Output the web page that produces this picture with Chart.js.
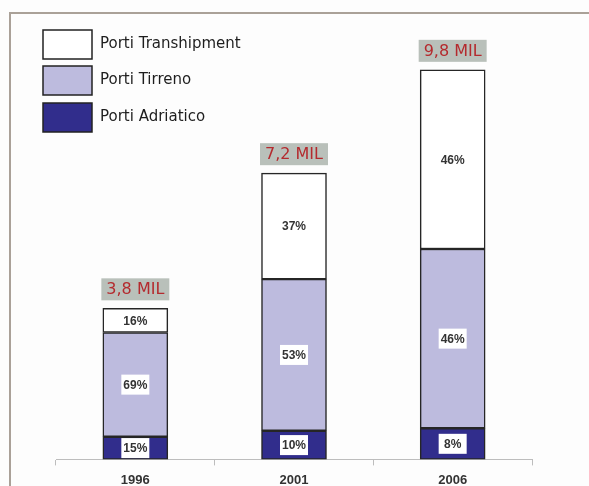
<!DOCTYPE html>
<html>
<head>
<meta charset="utf-8">
<script src="https://cdn.jsdelivr.net/npm/chart.js@4.4.1/dist/chart.umd.min.js"></script>
<style>
  html, body { margin: 0; padding: 0; background: #fdfdfd; }
  #wrap { width: 589px; height: 486px; position: relative; }
</style>
</head>
<body>
<div id="wrap"><canvas id="chart" width="589" height="486"></canvas></div>
<script>
// years on the x axis
const years = ["1996", "2001", "2006"];
// total traffic per year, in millions (label text "3,8 MIL" etc.)
const totals = [3.8, 7.2, 9.8];
const totalLabels = ["3,8 MIL", "7,2 MIL", "9,8 MIL"];
// share of each port group, percent
const shareAdriatico = [15, 10, 8];
const shareTirreno = [69, 53, 46];
const shareTranshipment = [16, 37, 46];

function part(share) {
    return share.map((s, i) => totals[i] * s / 100);
}

// white percent boxes inside each segment + grey total box above each bar
const labelsPlugin = {
    id: "segLabels",
    afterDatasetsDraw(chart) {
        var ctx = chart.ctx;
        ctx.save();
        ctx.textAlign = "center";
        ctx.textBaseline = "middle";
        chart.data.datasets.forEach((ds, di) => {
            var meta = chart.getDatasetMeta(di);
            meta.data.forEach((bar, i) => {
                var cy = (bar.y + bar.base) / 2;
                ctx.fillStyle = "#ffffff";
                ctx.fillRect(bar.x - 14, cy - 10, 28, 20);
                ctx.fillStyle = "#333333";
                ctx.font = "bold 12px 'Liberation Sans', Arial, sans-serif";
                ctx.fillText(ds.shares[i] + "%", bar.x, cy + 1);
            });
        });
        // totals
        var top = chart.getDatasetMeta(chart.data.datasets.length - 1);
        top.data.forEach((bar, i) => {
            ctx.font = "16px 'DejaVu Sans', sans-serif";
            var w = ctx.measureText(totalLabels[i]).width + 10;
            var bw = Math.max(w, 66);
            ctx.fillStyle = "#b9c0ba";
            ctx.fillRect(bar.x - bw / 2, bar.y - 30, bw, 22);
            ctx.fillStyle = "#b42a2e";
            ctx.fillText(totalLabels[i], bar.x, bar.y - 18);
        });
        ctx.restore();
    },
    beforeDraw(chart) {
        var ctx = chart.ctx;
        ctx.save();
        ctx.strokeStyle = "#aaa198";
        ctx.lineWidth = 2;
        ctx.beginPath();
        ctx.moveTo(10, 486);
        ctx.lineTo(10, 13);
        ctx.lineTo(589, 13);
        ctx.stroke();
        ctx.restore();
    },
    afterDraw(chart) {
        // legend, top-left, reversed order
        var ctx = chart.ctx;
        var items = chart.data.datasets.slice().reverse();
        var ys = [30, 66, 103];
        ctx.save();
        items.forEach((ds, k) => {
            ctx.fillStyle = ds.backgroundColor;
            ctx.fillRect(43, ys[k], 49, 29);
            ctx.strokeStyle = "#222";
            ctx.lineWidth = 1.5;
            ctx.strokeRect(43, ys[k], 49, 29);
            ctx.fillStyle = "#1e1e1e";
            ctx.font = "15px 'DejaVu Sans', sans-serif";
            ctx.textBaseline = "middle";
            ctx.fillText(ds.label, 100, ys[k] + 14);
        });
        ctx.restore();
    }
};

var ctx = document.getElementById("chart");
var myChart = new Chart(ctx, {
    type: "bar",
    data: {
        labels: years,
        datasets: [
            {
                label: "Porti Adriatico",
                data: part(shareAdriatico),
                shares: shareAdriatico,
                backgroundColor: "#312d8c",
            },
            {
                label: "Porti Tirreno",
                data: part(shareTirreno),
                shares: shareTirreno,
                backgroundColor: "#bdbbde",
            },
            {
                label: "Porti Transhipment",
                data: part(shareTranshipment),
                shares: shareTranshipment,
                backgroundColor: "#ffffff",
            },
        ],
    },
    options: {
        responsive: false,
        animation: false,
        layout: { padding: { top: 42, left: 56, right: 57, bottom: -9 } },
        datasets: {
            bar: {
                borderColor: "#262626",
                borderWidth: 1.5,
                borderSkipped: false,
                barThickness: 65,
            },
        },
        plugins: {
            legend: { display: false },
            tooltip: { enabled: false },
        },
        scales: {
            x: {
                stacked: true,
                grid: { offset: true, drawOnChartArea: false, tickLength: 6, color: "#bdbdbd" },
                border: { color: "#bdbdbd" },
                ticks: {
                    color: "#333",
                    padding: 7,
                    font: { family: "'Liberation Sans', Arial, sans-serif", size: 13, weight: "bold" },
                },
            },
            y: {
                stacked: true,
                display: false,
                min: 0,
                max: 10.5,
            },
        },
    },
    plugins: [labelsPlugin],
});
</script>
</body>
</html>
